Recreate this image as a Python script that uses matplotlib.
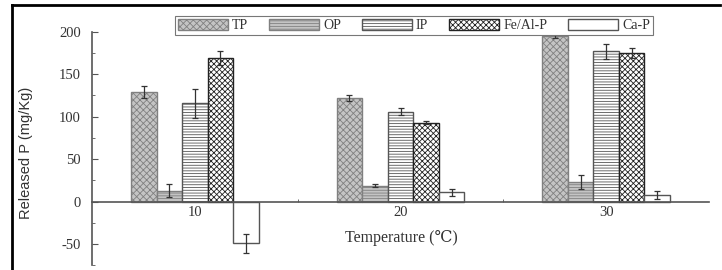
import matplotlib
matplotlib.use("Agg")
import matplotlib.pyplot as plt
import numpy as np
from matplotlib.lines import Line2D

temps = [10, 20, 30]
series = ["TP", "OP", "IP", "Fe/Al-P", "Ca-P"]
values = {
    "TP": [129, 122, 195],
    "OP": [13, 19, 23],
    "IP": [116, 106, 177],
    "Fe/Al-P": [169, 93, 175],
    "Ca-P": [-49, 11, 8],
}
errors = {
    "TP": [7.5, 3, 3],
    "OP": [8, 2, 8],
    "IP": [17, 4, 9],
    "Fe/Al-P": [8, 2, 6],
    "Ca-P": [11, 4, 5],
}
yticks = [-50, 0, 50, 100, 150, 200]

styles = {
    "TP": dict(facecolor="#c4c4c4", hatch="xxxxx", edgecolor="#808080"),
    "OP": dict(facecolor="#c4c4c4", hatch="------", edgecolor="#808080"),
    "IP": dict(facecolor="white", hatch="------", edgecolor="#555555"),
    "Fe/Al-P": dict(facecolor="white", hatch="xxxxxx", edgecolor="#222222"),
    "Ca-P": dict(facecolor="white", hatch="", edgecolor="#555555"),
}

plt.rcParams["hatch.linewidth"] = 0.6
serif = ["Liberation Serif", "DejaVu Serif"]

fig = plt.figure(figsize=(7.22, 2.70), dpi=100)
ax = fig.add_axes([92/722, 4.6/270, (709-92)/722, (265.4-31.7)/270])

width = 1.24
x = np.array(temps, dtype=float)
handles = []
for i, s in enumerate(series):
    pos = x + (i - 2) * width
    st = styles[s]
    b = ax.bar(pos, values[s], width=width, facecolor=st["facecolor"],
               hatch=st["hatch"], edgecolor=st["edgecolor"], linewidth=1.0,
               zorder=2, label=s)
    ax.errorbar(pos, values[s], yerr=errors[s], fmt="none", ecolor="#333333",
                elinewidth=0.9, capsize=2.5, capthick=0.9, zorder=3)
    handles.append(b)

ax.set_xlim(5, 35)
ax.set_ylim(-75, 200)
ax.spines["top"].set_visible(False)
ax.spines["right"].set_visible(False)
ax.spines["bottom"].set_position(("data", 0))
for sp in ("left", "bottom"):
    ax.spines[sp].set_color("#555555")
    ax.spines[sp].set_linewidth(1.2)

ax.set_xticks(temps)
ax.set_xticklabels([str(t) for t in temps], family=serif, fontsize=10.5, color="#333333")
ax.set_xticks([15, 25], minor=True)
ax.set_yticks(yticks)
ax.set_yticklabels([str(v) for v in yticks], family=serif, fontsize=10.5, color="#333333")
ax.set_yticks([-75, -25, 25, 75, 125, 175], minor=True)
ax.tick_params(axis="both", which="both", direction="in", color="#555555")
ax.tick_params(axis="y", which="major", length=4, pad=8)
ax.tick_params(axis="y", which="minor", length=2.5)
ax.tick_params(axis="x", which="major", length=2.5, pad=3)
ax.tick_params(axis="x", which="minor", length=2)

ax.set_ylabel("Released P (mg/Kg)", family=["Liberation Sans Narrow", "Liberation Sans"],
              fontsize=10.5, color="#333333")
ax.yaxis.set_label_coords(-0.095, 0.48)
fig.text(401/722, 1 - 238/270, "Temperature (\u2103)", family=serif, fontsize=11.5,
         color="#333333", ha="center", va="center")

leg = ax.legend(handles=handles, labels=series, ncol=5, loc="center",
                bbox_to_anchor=((414 - 92) / 617, (270 - 25.5 - 4.6) / (265.4 - 31.7)),
                bbox_transform=ax.transAxes, prop={"family": serif, "size": 10},
                handlelength=3.6, handleheight=0.8, handletextpad=0.3,
                columnspacing=1.5, borderpad=0.2, fancybox=False,
                edgecolor="#777777", framealpha=1)
leg.get_frame().set_linewidth(0.8)
for t in leg.get_texts():
    t.set_color("#333333")

# outer border lines of the figure
fig.add_artist(Line2D([12/722, 720/722], [1 - 5/270, 1 - 5/270], transform=fig.transFigure,
                      color="black", linewidth=2))
fig.add_artist(Line2D([12/722, 12/722], [0, 1 - 5/270], transform=fig.transFigure,
                      color="black", linewidth=2))

fig.savefig("out.png", dpi=100)
